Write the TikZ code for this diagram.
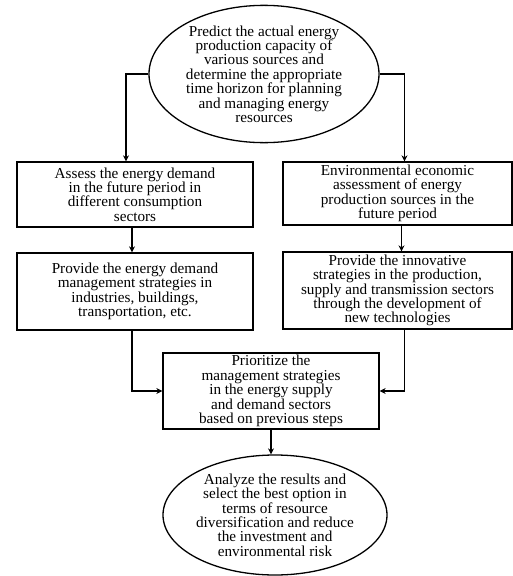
\documentclass[tikz,border=0pt]{standalone}
\usepackage{fontspec}
\setmainfont{Liberation Serif}
\usetikzlibrary{shapes.geometric,arrows.meta}

\begin{document}
\begin{tikzpicture}[x=1pt,y=-1pt,
    every node/.style={font=\fontsize{15.2}{14.4}\selectfont, align=center},
    stepbox/.style={draw, line width=1.3pt, inner sep=0pt},
    oval/.style={draw, ellipse, line width=1.3pt, inner sep=0pt},
    link/.style={line width=1.3pt, -{Stealth[length=6pt,width=6pt]}}]
    \useasboundingbox (0,0) rectangle (513,576);

    \node [oval, minimum width=230, minimum height=130] (predict) at (264,74)
      {Predict the actual energy\\ production capacity of\\ various sources and\\ determine the appropriate\\ time horizon for planning\\ and managing energy\\ resources};

    \node [stepbox, minimum width=236, minimum height=65] (demand) at (135,194.5)
      {Assess the energy demand\\ in the future period in\\ different consumption\\ sectors};
    \node [stepbox, minimum width=229, minimum height=63] (assess) at (397.5,193.5)
      {Environmental economic\\ assessment of energy\\ production sources in the\\ future period};

    \node [stepbox, minimum width=236, minimum height=77] (demandstr) at (135,291.5)
      {Provide the energy demand\\ management strategies in\\ industries, buildings,\\ transportation, etc.};
    \node [stepbox, minimum width=229, minimum height=77] (innov) at (397.5,290.5)
      {Provide the innovative\\ strategies in the production,\\ supply and transmission sectors\\ through the development of\\ new technologies};

    \node [stepbox, minimum width=216, minimum height=76] (prior) at (271,391)
      {Prioritize the\\ management strategies\\ in the energy supply\\ and demand sectors\\ based on previous steps};

    \node [oval, minimum width=224, minimum height=120] (analyze) at (275,515)
      {Analyze the results and\\ select the best option in\\ terms of resource\\ diversification and reduce\\ the investment and\\ environmental risk};

    \draw [link] (predict.west) -| ([xshift=-9pt]demand.north);
    \draw [link] (predict.east) -| ([xshift=7pt]assess.north);
    \draw [link] ([xshift=-3pt]demand.south) -- ([xshift=-3pt]demandstr.north);
    \draw [link] ([xshift=4pt]assess.south) -- ([xshift=4pt]innov.north);
    \draw [link] ([xshift=-3pt]demandstr.south) |- (prior.west);
    \draw [link] ([xshift=7pt]innov.south) |- (prior.east);
    \draw [link] (prior.south) -- (prior.south |- analyze.north);
\end{tikzpicture}
\end{document}
